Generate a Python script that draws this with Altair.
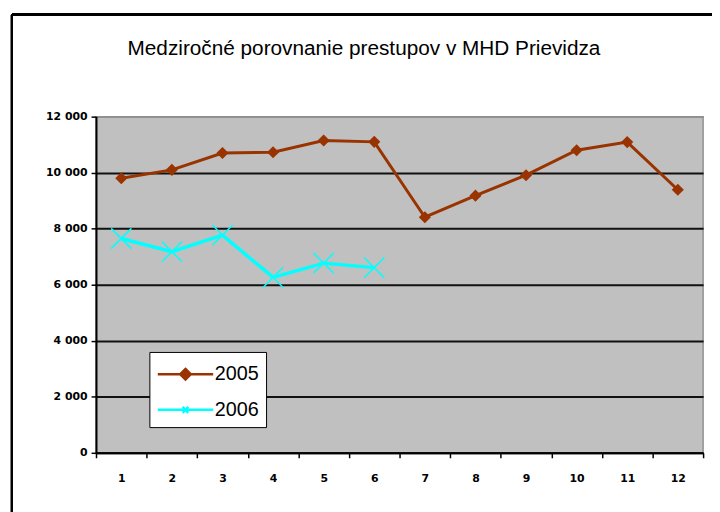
import altair as alt
import pandas as pd

months = list(range(1, 13))
series_names = ["2005", "2006"]
values_2005 = [9800, 10100, 10700, 10730, 11150, 11100, 8410, 9180, 9910, 10800, 11090, 9390]
values_2006 = [7650, 7180, 7770, 6260, 6770, 6610]
y_ticks = [0, 2000, 4000, 6000, 8000, 10000, 12000]

rows = []
for m, v in zip(months, values_2005):
    rows.append({"mesiac": m, "rok": "2005", "prestupy": v})
for m, v in zip(months, values_2006):
    rows.append({"mesiac": m, "rok": "2006", "prestupy": v})
df = pd.DataFrame(rows)

BROWN = "#993300"
CYAN = "#00FFFF"
X_PATH = "M-1,-1L1,1M-1,1L1,-1"
LEG_2005 = ("M-1,0L3,0"
            "M1,-0.38L1.38,0L1,0.38L0.62,0Z"
            "M1,-0.25L1.25,0L1,0.25L0.75,0Z"
            "M1,-0.12L1.12,0L1,0.12L0.88,0Z")
LEG_2006 = "M-1,0L3,0M0.8,-0.22L1.2,0.22M0.8,0.22L1.2,-0.22"

AXIS_FONT = "DejaVu Sans"

x_enc = alt.X(
    "mesiac:O",
    scale=alt.Scale(type="band", domain=months, paddingInner=0, paddingOuter=0),
    axis=alt.Axis(
        title=None,
        grid=False,
        labelAngle=0,
        tickBand="extent",
        domainColor="black",
        domainWidth=2,
        tickColor="black",
        tickWidth=1.5,
        tickSize=5,
        labelPadding=15,
        labelFont=AXIS_FONT,
        labelFontWeight="bold",
        labelFontSize=11,
        labelColor="black",
    ),
)
y_enc = alt.Y(
    "prestupy:Q",
    scale=alt.Scale(domain=[0, 12000], nice=False),
    axis=alt.Axis(
        values=y_ticks,
        labelExpr="replace(format(datum.value, ','), ',', ' ')",
        title=None,
        grid=True,
        gridColor=alt.condition("datum.value >= 12000", alt.value("#909090"), alt.value("#111111")),
        gridWidth=2,
        domainColor="black",
        domainWidth=2,
        tickColor="black",
        tickWidth=1.5,
        tickSize=5,
        labelPadding=4,
        labelFont=AXIS_FONT,
        labelFontWeight="bold",
        labelFontSize=11,
        labelColor="black",
    ),
)

base = alt.Chart(df)

line05 = base.transform_filter("datum.rok == '2005'").mark_line(color=BROWN, strokeWidth=3).encode(x=x_enc, y=y_enc)
pts05 = base.transform_filter("datum.rok == '2005'").mark_point(
    shape="diamond", filled=True, color=BROWN, size=150, opacity=1
).encode(x="mesiac:O", y="prestupy:Q")
line06 = base.transform_filter("datum.rok == '2006'").mark_line(color=CYAN, strokeWidth=3.5).encode(x="mesiac:O", y="prestupy:Q")
pts06 = base.transform_filter("datum.rok == '2006'").mark_point(
    shape=X_PATH, filled=False, color=CYAN, size=420, strokeWidth=1.5, opacity=1
).encode(x="mesiac:O", y="prestupy:Q")

legend_layer = base.transform_filter("false").mark_point(filled=False, strokeWidth=2.5, opacity=1).encode(
    x="mesiac:O",
    y="prestupy:Q",
    color=alt.Color("rok:N", scale=alt.Scale(domain=series_names, range=[BROWN, CYAN]),
                    legend=alt.Legend(
                        title=None, orient="none", legendX=54, legendY=238,
                        fillColor="white", strokeColor="black",
                        padding=7, symbolSize=784, symbolStrokeWidth=2.5,
                        labelFont="Liberation Sans", labelFontSize=20, labelColor="black",
                        labelOffset=28, rowPadding=10, cornerRadius=0,
                    )),
    shape=alt.Shape("rok:N", scale=alt.Scale(domain=series_names, range=[LEG_2005, LEG_2006])),
)

border_left = alt.Chart(df).mark_rule(color="black", strokeWidth=2).encode(
    x=alt.value(-85), y=alt.value(-103), y2=alt.value(420)
)
border_top = alt.Chart(df).mark_rule(color="black", strokeWidth=2).encode(
    x=alt.value(-85), x2=alt.value(640), y=alt.value(-103)
)

chart = alt.layer(line05, pts05, line06, pts06, legend_layer, border_left, border_top).properties(
    width=614,
    height=340,
    autosize=alt.AutoSizeParams(type="none"),
    padding={"left": 89, "top": 107, "right": 9, "bottom": 57},
    background="white",
    title=alt.TitleParams(
        "Medziročné porovnanie prestupov v MHD Prievidza",
        font="Liberation Sans", fontSize=21, fontWeight="normal", color="black",
        anchor="middle", dx=-36, offset=-63, baseline="alphabetic",
    ),
).configure_view(fill="#C0C0C0", stroke="#909090", strokeWidth=1.5)

chart.save("out.html", embed_options={"renderer": "svg", "actions": False})
